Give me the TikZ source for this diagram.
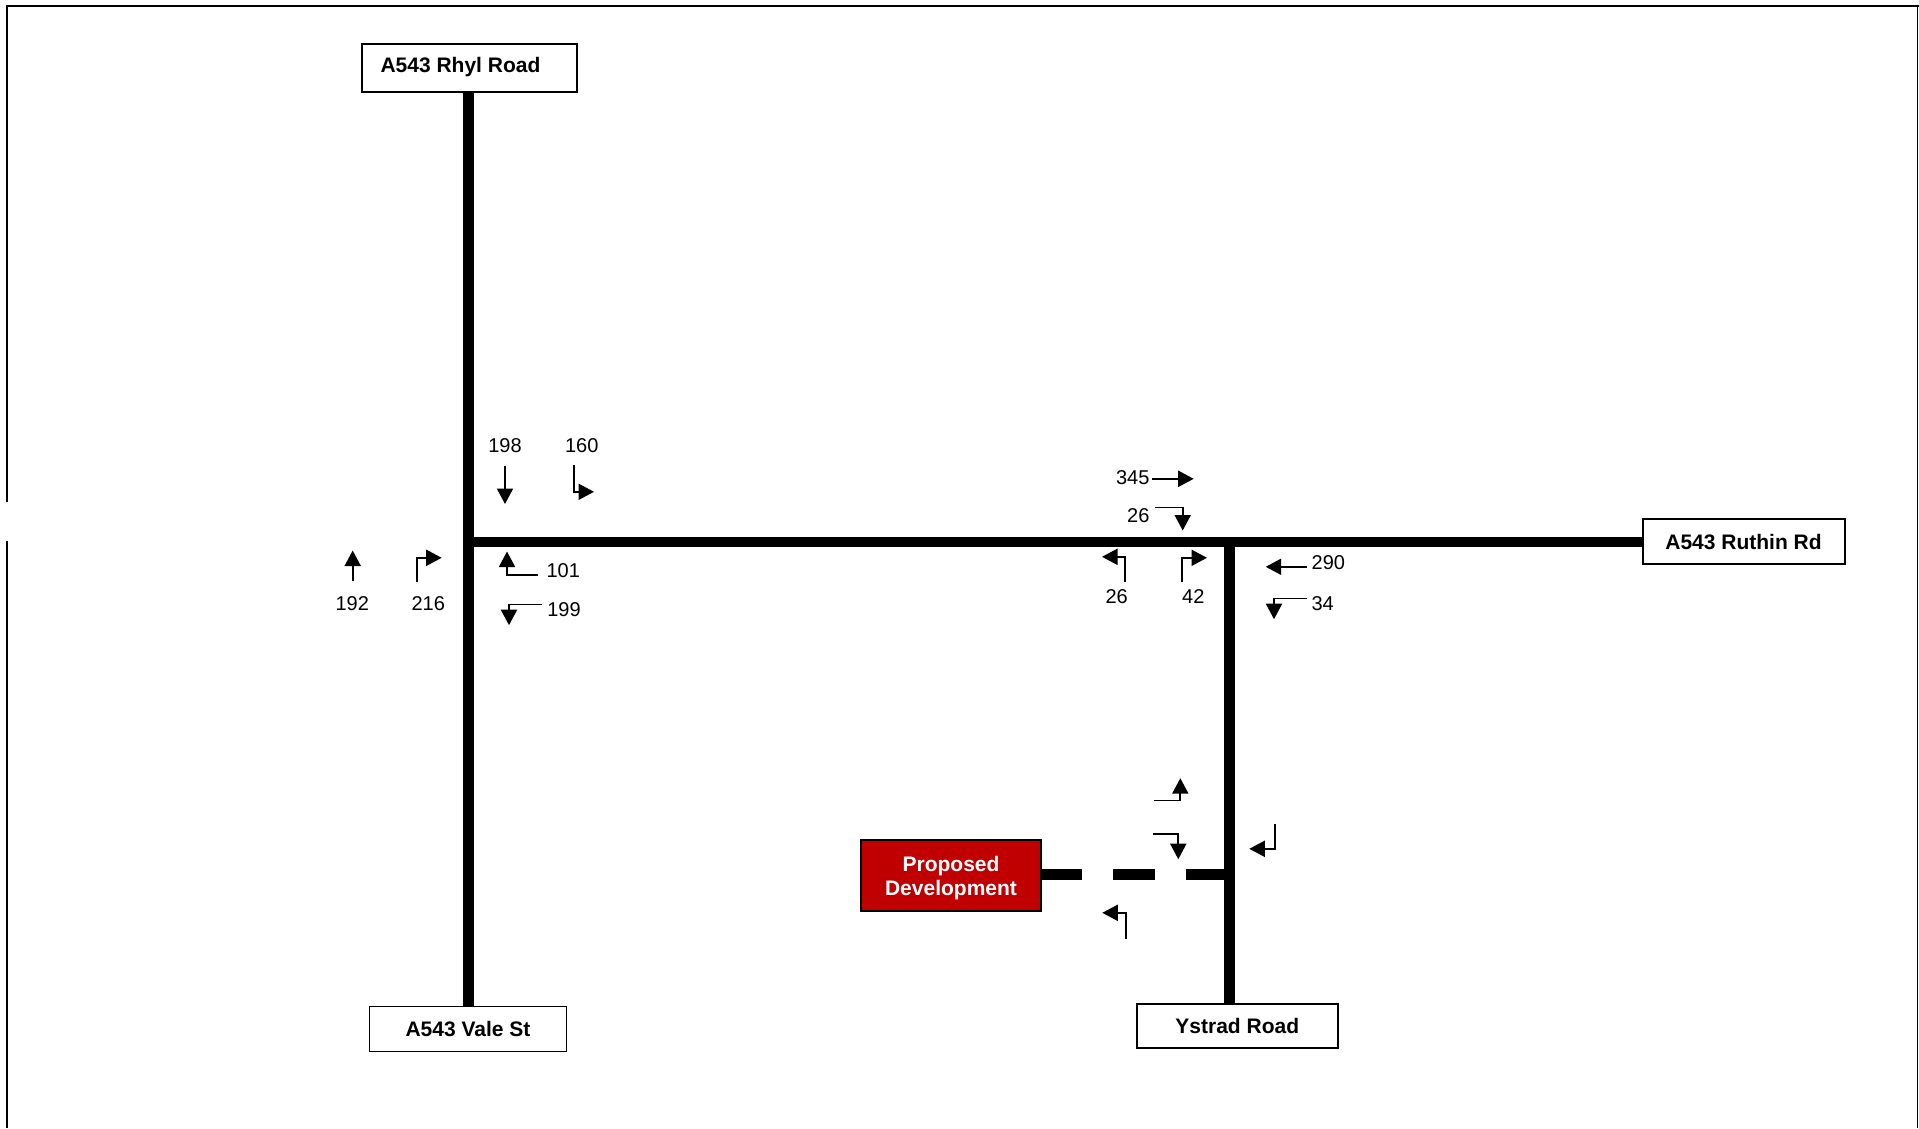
\documentclass[tikz,border=0pt]{standalone}
\usepackage{fontspec}
\setmainfont{Liberation Sans}
\usetikzlibrary{arrows.meta}
\tikzset{
  road/.style={line width=10.5pt,line cap=butt,black},
  frameline/.style={line width=2.4pt,black},
  flow/.style={line width=1.9pt,black,-{Triangle[length=15.5pt,width=16pt]},line join=miter},
  boxbase/.style={draw=black,line width=1.9pt,inner sep=0pt,outer sep=0pt},
  roadbox/.style={boxbase,fill=white},
  devbox/.style={boxbase,fill=devred},
  devtext/.style={text=white,font=\fontsize{21}{24}\selectfont\bfseries,align=center,inner sep=0pt},
  boxtext/.style={font=\fontsize{21}{24}\selectfont\bfseries,inner sep=0pt},
  count/.style={font=\fontsize{20}{24}\selectfont,inner sep=0pt},
}
\definecolor{devred}{RGB}{192,0,0}
\begin{document}
\begin{tikzpicture}[x=1pt,y=-1pt]
\useasboundingbox (0,0) rectangle (1919,1128);
% frame
\draw[frameline] (7,1128) -- (7,541);
\draw[frameline] (7,502) -- (7,6) -- (1919,6);
\draw[line width=1.2pt,black] (1917.7,6) -- (1917.7,1128);
\begin{scope}[shift={(0,1)}]
% boxes
\node[roadbox,minimum width=214.5pt,minimum height=48.5pt] (rhyl) at (469.5,67) {};
\node[boxtext] (rhyltext) at (460.5,66) {A543 Rhyl Road};
\node[roadbox,minimum width=197pt,minimum height=45pt] (vale) at (468,1028) {};
\node[boxtext] (valetext) at (468,1028) {A543 Vale St};
\node[roadbox,minimum width=201.5pt,minimum height=44.5pt] (ruthin) at (1744,540.5) {};
\node[boxtext] (ruthintext) at (1743.5,541) {A543 Ruthin Rd};
\node[roadbox,minimum width=201pt,minimum height=44.5pt] (ystrad) at (1237.5,1024.8) {};
\node[boxtext] (ystradtext) at (1237.3,1025) {Ystrad Road};
\node[devbox,minimum width=180pt,minimum height=71.5pt] (dev) at (951.2,874.5) {};
\node[devtext] (devlabel) at (951,877) {Proposed\\Development};
% roads
\coordinate (jw) at (468.7,541);
\coordinate (je) at (1229.7,541);
\coordinate (js) at (1229.7,873.3);
\draw[road] (jw |- rhyl.south) -- (jw |- vale.north);
\draw[road] (463.5,541) -- (ruthin.west |- jw);
\draw[road] (je) -- (je |- ystrad.north);
\coordinate (d1) at (1082,873.3);
\coordinate (d2) at (1113.3,873.3);
\coordinate (d3) at (1155,873.3);
\coordinate (d4) at (1186.3,873.3);
\draw[road] (dev.east |- js) -- (d1);
\draw[road] (d2) -- (d3);
\draw[road] (d4) -- (js);
% counts
\node[count] (n198) at (505,445) {198};
\node[count] (n160) at (581.7,445) {160};
\node[count] (n192) at (352.3,603) {192};
\node[count] (n216) at (428.3,603) {216};
\node[count] (n101) at (563.3,570) {101};
\node[count] (n199) at (564,609) {199};
\node[count] (n345) at (1132.7,477) {345};
\node[count] (n26a) at (1138.3,515) {26};
\node[count] (n26b) at (1116.7,596) {26};
\node[count] (n42) at (1193.3,596) {42};
\node[count] (n290) at (1328.3,562) {290};
\node[count] (n34) at (1322.7,603) {34};
% flow arrows: start, tip
\coordinate (a1) at (505,465.2);   \coordinate (b1) at (505,503);
\draw[flow] (a1) -- (b1);
\coordinate (a2) at (573.7,463.5);   \coordinate (b2) at (594,490.8);
\draw[flow] (a2) |- (b2);
\coordinate (a3) at (352.7,579.5);   \coordinate (b3) at (352.7,549.5);
\draw[flow] (a3) -- (b3);
\coordinate (a4) at (417,581.2);   \coordinate (b4) at (441.7,556.8);
\draw[flow] (a4) |- (b4);
\coordinate (a5) at (538,573.8);   \coordinate (b5) at (507,550.5);
\draw[flow] (a5) -| (b5);
\coordinate (a6) at (542,603.5);     \coordinate (b6) at (509,624.2);
\draw[flow] (a6) -| (b6);
\coordinate (a7) at (1152,477.8);  \coordinate (b7) at (1193.7,477.8);
\draw[flow] (a7) -- (b7);
\coordinate (a8) at (1155,506.5);    \coordinate (b8) at (1182.7,529.5);
\draw[flow] (a8) -| (b8);
\coordinate (a9) at (1125.3,581.2); \coordinate (b9) at (1102,555.8);
\draw[flow] (a9) |- (b9);
\coordinate (a10) at (1182,580.5);   \coordinate (b10) at (1207,556.8);
\draw[flow] (a10) |- (b10);
\coordinate (a11) at (1306.7,565.8); \coordinate (b11) at (1265.7,565.8);
\draw[flow] (a11) -- (b11);
\coordinate (a12) at (1307.3,597.5); \coordinate (b12) at (1274,618.2);
\draw[flow] (a12) -| (b12);
\coordinate (a13) at (1154,799.5);   \coordinate (b13) at (1180.3,777.2);
\draw[flow] (a13) -| (b13);
\coordinate (a14) at (1153,833.2); \coordinate (b14) at (1178.3,858.2);
\draw[flow] (a14) -| (b14);
\coordinate (a15) at (1274.7,822.8); \coordinate (b15) at (1249.3,847.8);
\draw[flow] (a15) |- (b15);
\coordinate (a16) at (1125.7,937.8); \coordinate (b16) at (1102.3,911.8);
\draw[flow] (a16) |- (b16);
\end{scope}
\end{tikzpicture}
\end{document}
